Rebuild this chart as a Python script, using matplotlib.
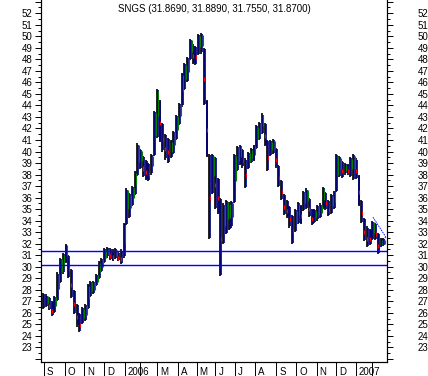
import numpy as np
import pandas as pd
import matplotlib
matplotlib.use("Agg")
import matplotlib.pyplot as plt
from matplotlib.ticker import MultipleLocator, FuncFormatter


# ==========================
# Dati
# ==========================

title = "SNGS (31.8690, 31.8890, 31.7550, 31.8700)"

start_date = "2005-09-01"
end_date = "2007-02-20"
holidays = [
    "2005-11-04",
    "2006-01-02", "2006-01-03", "2006-01-04", "2006-01-05", "2006-01-06", "2006-01-09",
    "2006-02-23", "2006-03-08", "2006-05-01", "2006-05-08", "2006-05-09",
    "2006-06-12", "2006-11-06",
    "2007-01-01", "2007-01-02", "2007-01-03", "2007-01-04", "2007-01-05", "2007-01-08",
]

# minimi / massimi (un campione ogni ~3 sedute)
lows = [
    26.3, 26.5, 26.2, 25.7, 26.0, 27.0, 28.6, 29.4, 30.3, 29.0,
    27.3, 25.9, 24.8, 24.3, 25.0, 25.3, 26.3, 27.4, 27.6, 28.3,
    28.9, 29.5, 30.3, 30.8, 30.6, 30.5, 30.7, 30.5, 30.2, 30.8,
    33.6, 34.2, 35.3, 36.2, 37.9, 38.5, 37.8, 37.5, 37.4, 38.0,
    39.6, 41.2, 40.8, 40.0, 39.3, 39.0, 39.4, 39.8, 41.0, 42.3,
    43.9, 45.3, 46.0, 47.9, 47.6, 47.5, 48.4, 48.5, 44.0, 39.5,
    32.4, 36.3, 35.0, 34.6, 29.2, 32.0, 32.8, 33.2, 33.4, 35.5,
    38.3, 38.8, 38.6, 36.8, 38.5, 39.0, 39.2, 40.2, 41.0, 41.5,
    40.5, 38.3, 39.6, 39.8, 38.6, 36.9, 35.8, 34.5, 34.2, 33.4,
    32.0, 33.0, 33.7, 33.7, 34.8, 35.0, 34.3, 33.6, 33.8, 34.0,
    34.2, 35.0, 34.9, 34.4, 34.6, 35.0, 36.5, 37.8, 37.7, 38.0,
    38.0, 37.8, 37.5, 37.6, 35.3, 33.8, 32.2, 31.7, 31.9, 32.3,
    32.3, 31.1, 31.7, 31.8,
]
highs = [
    27.7, 27.6, 27.4, 27.0, 27.5, 29.5, 30.8, 31.2, 32.0, 31.0,
    29.8, 28.0, 26.8, 26.0, 26.5, 26.8, 28.5, 28.8, 28.8, 29.4,
    30.5, 30.8, 31.6, 31.7, 31.6, 31.5, 31.6, 31.3, 31.5, 33.8,
    36.8, 36.4, 37.0, 38.3, 40.7, 40.2, 39.6, 39.3, 39.0, 39.8,
    43.5, 45.4, 44.5, 42.5, 41.5, 41.2, 41.0, 41.8, 43.2, 44.2,
    46.8, 47.7, 48.2, 49.8, 49.3, 49.2, 50.2, 50.3, 49.0, 44.5,
    39.8, 39.8, 39.5, 37.7, 36.0, 35.5, 35.8, 35.6, 35.7, 39.8,
    40.5, 40.6, 40.2, 39.4, 40.0, 40.3, 40.6, 42.3, 42.6, 43.3,
    42.5, 41.0, 41.0, 41.1, 40.3, 38.8, 37.5, 36.3, 35.8, 35.3,
    34.5, 35.0, 35.6, 35.4, 36.6, 36.8, 36.0, 35.0, 35.0, 35.4,
    35.5, 36.9, 36.5, 35.8, 36.3, 36.6, 39.8, 39.6, 39.2, 39.0,
    38.9, 39.5, 39.8, 39.4, 38.0, 35.8, 34.2, 33.5, 33.3, 34.0,
    33.8, 32.9, 32.5, 32.5,
]

support_levels = [31.39, 30.18]

# linee a cuneo finali (campione, prezzo)
wedge_upper = [(119, 34.3), (123.6, 32.6)]
wedge_lower = [(123.6, 32.6), (120.6, 31.2)]


# ==========================
# Asse dei tempi
# ==========================

days = pd.bdate_range(start_date, end_date)
days = days[~days.isin(pd.to_datetime(holidays))]
n_days = len(days)

pos = np.linspace(0, n_days - 1, len(lows))
step = pos[1] - pos[0]

lows = np.array(lows)
highs = np.array(highs)

month_idx = []
month_lab = []
prev = None
for i, d in enumerate(days):
    key = (d.year, d.month)
    if key != prev:
        month_idx.append(i)
        if d.month == 1:
            month_lab.append(str(d.year))
        elif d.month == 2:
            month_lab.append("")
        else:
            month_lab.append(d.strftime("%b")[0])
        prev = key


# ==========================
# Figura
# ==========================

W, H = 428, 376
fig = plt.figure(figsize=(W / 100, H / 100), dpi=100)
ax = fig.add_axes([41 / W, 14 / H, 346 / W, 362 / H])

px_per_day = 340 / (n_days - 1)
ax.set_xlim(-3 / px_per_day, n_days - 1 + 3 / px_per_day)
ax.set_ylim(21.73, 53.15)

lw_px = 0.72

ax.vlines(pos - 0.6, lows, highs, color="black", linewidth=1.7 * lw_px)
ax.vlines(pos + 0.4, lows + 0.1, highs - 0.1, color="#000080", linewidth=1.7 * lw_px)

mids = (lows + highs) / 2
for k in range(1, len(pos)):
    if mids[k] >= mids[k - 1]:
        ax.vlines(pos[k] + 1.2, mids[k] - 0.2, highs[k] - 0.15, color="#008000",
                  linewidth=1.1 * lw_px)
    else:
        ax.vlines(pos[k] - 0.2, mids[k] - 0.35, mids[k], color="#ff0000",
                  linewidth=1.1 * lw_px)

for level in support_levels:
    ax.axhline(level, color="#0000ff", linewidth=1.4 * lw_px)

for seg in (wedge_upper, wedge_lower):
    xs = [step * s[0] for s in seg]
    ys = [s[1] for s in seg]
    ax.plot(xs, ys, color="#0000ff", linewidth=0.6, linestyle=(0, (2, 1)))

ax.text(0.5, 1 - 9.5 / 362, title, transform=ax.transAxes,
        ha="center", va="center", fontsize=7, family="Liberation Sans")

# assi
ax.spines["top"].set_visible(False)
for s in ("left", "right", "bottom"):
    ax.spines[s].set_linewidth(0.8)

fmt = FuncFormatter(lambda v, p: f"{v:.0f}" if 22.5 < v < 52.5 else "")

ax.yaxis.set_major_locator(MultipleLocator(1))
ax.yaxis.set_minor_locator(MultipleLocator(0.5))
ax.yaxis.set_major_formatter(fmt)
ax.tick_params(axis="y", which="major", length=4, width=0.7, labelsize=7, pad=2,
               direction="out", right=True)
ax.tick_params(axis="y", which="minor", length=2.5, width=0.7, direction="out", right=True)
for lab in ax.get_yticklabels():
    lab.set_family("Liberation Sans")

ax2 = ax.twinx()
ax2.set_ylim(ax.get_ylim())
ax2.spines["top"].set_visible(False)
ax2.yaxis.set_major_locator(MultipleLocator(1))
ax2.yaxis.set_minor_locator(MultipleLocator(0.5))
ax2.yaxis.set_major_formatter(fmt)
ax2.tick_params(axis="y", which="major", length=4, width=0.7, labelsize=7, pad=18)
ax2.tick_params(axis="y", which="minor", length=2.5, width=0.7)
for lab in ax2.get_yticklabels():
    lab.set_family("Liberation Sans")

ax.set_xticks(month_idx)
ax.set_xticklabels([])
ax.tick_params(axis="x", length=11, width=0.7, direction="out")
for i, lab in zip(month_idx, month_lab):
    ax.annotate(lab, xy=(i, 0), xycoords=("data", "axes fraction"),
                xytext=(2.2, -7.5), textcoords="offset points",
                ha="left", va="center", fontsize=7, family="Liberation Sans")

fig.savefig("out.png", dpi=100)
